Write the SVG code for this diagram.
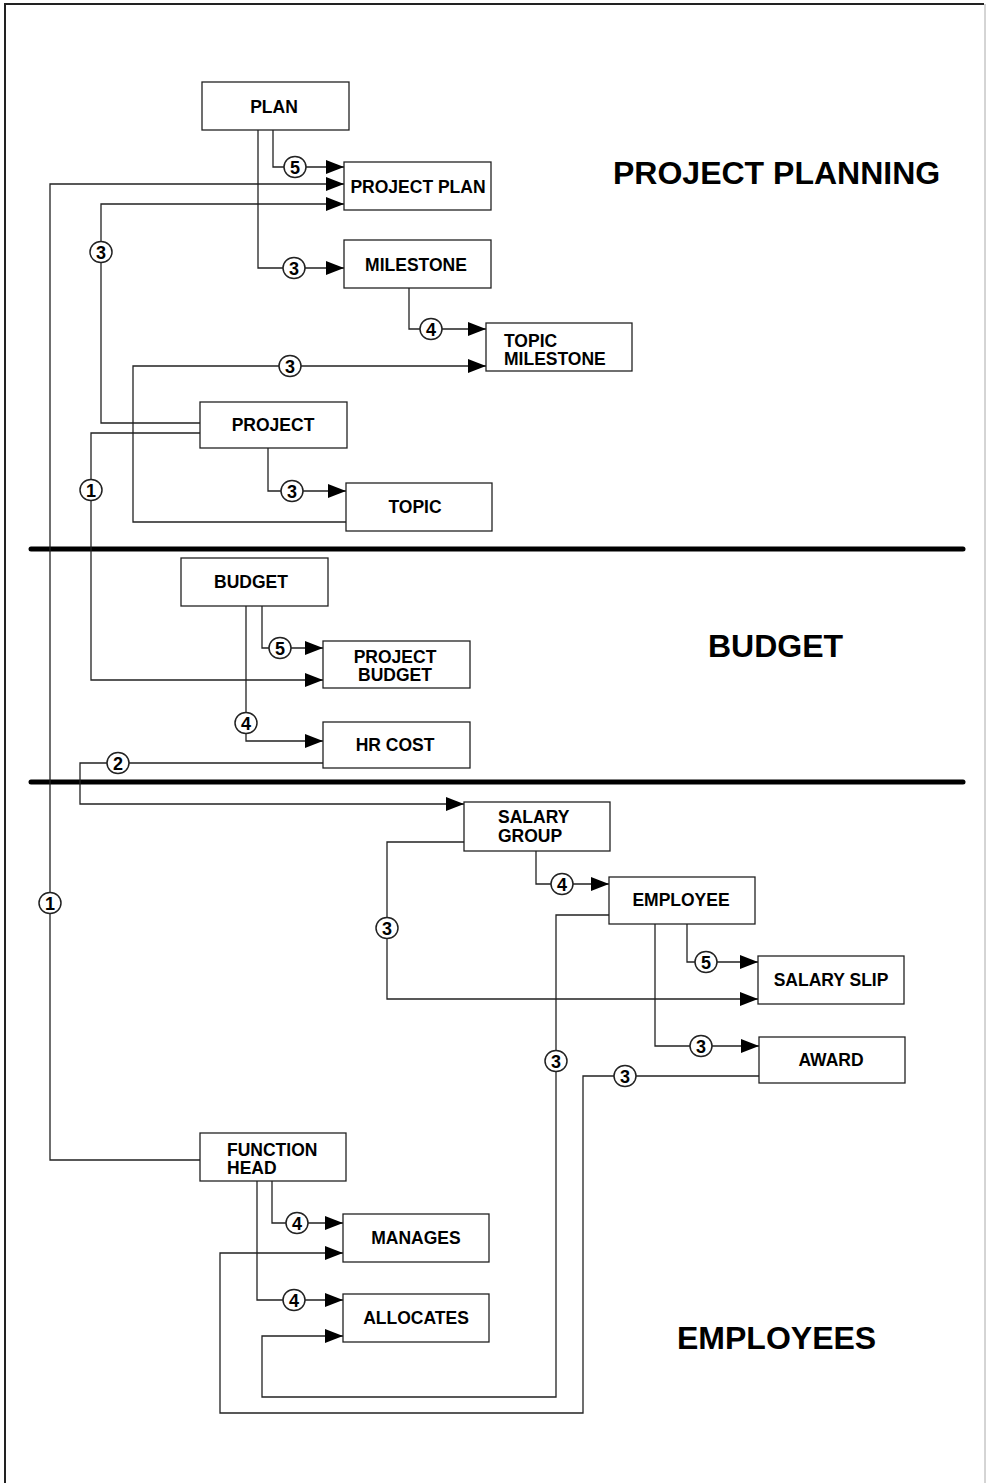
<svg xmlns="http://www.w3.org/2000/svg" width="986" height="1483" viewBox="0 0 986 1483">
  <style>
    .box { fill: #fff; stroke: #222; stroke-width: 1.3; }
    .lbl { font-family: "Liberation Sans", Arial, sans-serif; font-weight: bold; font-size: 17.5px; fill: #000; }
    .mid { text-anchor: middle; }
    .sect { font-family: "Liberation Sans", Arial, sans-serif; font-weight: bold; font-size: 32px; fill: #000; }
    .wire { fill: none; stroke: #222; stroke-width: 1.3; }
    .wire.arrow { marker-end: url(#tip); }
    .card ellipse { fill: #fff; stroke: #222; stroke-width: 1.5; }
    .card text { font-family: "Liberation Sans", Arial, sans-serif; font-weight: bold; font-size: 18px; fill: #000; text-anchor: middle; }
    .sep { stroke: #000; stroke-width: 5; stroke-linecap: round; }
    .frame { stroke: #222; stroke-width: 2; fill: none; }
  </style>
  <defs>
    <marker id="tip" markerWidth="18" markerHeight="14" refX="18" refY="7" orient="auto" markerUnits="userSpaceOnUse">
      <path d="M0,0 L18,7 L0,14 Z" fill="#000"/>
    </marker>
  </defs>

  <rect width="986" height="1483" fill="#fff"/>

  <!-- page frame -->
  <g id="frame">
    <path class="frame" d="M5,1483 V4 H984"/>
    <line x1="985" y1="4" x2="985" y2="1483" stroke="#aaa" stroke-width="1"/>
  </g>

  <!-- section separators and titles -->
  <g id="sections">
    <line class="sep" x1="31" y1="549" x2="963" y2="549"/>
    <line class="sep" x1="31" y1="782" x2="963" y2="782"/>
    <text class="sect" x="613" y="184">PROJECT PLANNING</text>
    <text class="sect" x="708" y="657">BUDGET</text>
    <text class="sect" x="677" y="1349">EMPLOYEES</text>
  </g>

  <!-- connectors -->
  <g id="connectors">
    <path class="wire arrow" d="M273,130 V167 H344"/>
    <path class="wire arrow" d="M258,130 V268 H344"/>
    <path class="wire arrow" d="M200,1160 H50 V184 H344"/>
    <path class="wire arrow" d="M200,423 H101 V204 H344"/>
    <path class="wire arrow" d="M409,288 V329 H486"/>
    <path class="wire arrow" d="M346,522 H133 V366 H486"/>
    <path class="wire arrow" d="M268,448 V491 H346"/>
    <path class="wire arrow" d="M200,433 H91 V680 H323"/>
    <path class="wire arrow" d="M262,606 V648 H323"/>
    <path class="wire arrow" d="M246,606 V741 H323"/>
    <path class="wire arrow" d="M323,763 H80 V804 H464"/>
    <path class="wire arrow" d="M536,851 V884 H609"/>
    <path class="wire arrow" d="M464,842 H387 V999 H758"/>
    <path class="wire arrow" d="M687,924 V962 H758"/>
    <path class="wire arrow" d="M655,924 V1046 H759"/>
    <path class="wire arrow" d="M609,915 H556 V1397 H262 V1336 H343"/>
    <path class="wire arrow" d="M759,1076 H583 V1413 H220 V1253 H343"/>
    <path class="wire arrow" d="M272,1181 V1223 H343"/>
    <path class="wire arrow" d="M257,1181 V1300 H343"/>

    <!-- cardinality markers -->
    <g class="card">
      <ellipse cx="295" cy="167" rx="11" ry="10.5"/><text x="295" y="173.5">5</text>
      <ellipse cx="294" cy="268" rx="11" ry="10.5"/><text x="294" y="274.5">3</text>
      <ellipse cx="50" cy="903" rx="11" ry="10.5"/><text x="50" y="909.5">1</text>
      <ellipse cx="101" cy="252" rx="11" ry="10.5"/><text x="101" y="258.5">3</text>
      <ellipse cx="431" cy="329" rx="11" ry="10.5"/><text x="431" y="335.5">4</text>
      <ellipse cx="290" cy="366" rx="11" ry="10.5"/><text x="290" y="372.5">3</text>
      <ellipse cx="292" cy="491" rx="11" ry="10.5"/><text x="292" y="497.5">3</text>
      <ellipse cx="91" cy="490" rx="11" ry="10.5"/><text x="91" y="496.5">1</text>
      <ellipse cx="280" cy="648" rx="11" ry="10.5"/><text x="280" y="654.5">5</text>
      <ellipse cx="246" cy="723" rx="11" ry="10.5"/><text x="246" y="729.5">4</text>
      <ellipse cx="118" cy="763" rx="11" ry="10.5"/><text x="118" y="769.5">2</text>
      <ellipse cx="562" cy="884" rx="11" ry="10.5"/><text x="562" y="890.5">4</text>
      <ellipse cx="387" cy="928" rx="11" ry="10.5"/><text x="387" y="934.5">3</text>
      <ellipse cx="706" cy="962" rx="11" ry="10.5"/><text x="706" y="968.5">5</text>
      <ellipse cx="701" cy="1046" rx="11" ry="10.5"/><text x="701" y="1052.5">3</text>
      <ellipse cx="556" cy="1061" rx="11" ry="10.5"/><text x="556" y="1067.5">3</text>
      <ellipse cx="625" cy="1076" rx="11" ry="10.5"/><text x="625" y="1082.5">3</text>
      <ellipse cx="297" cy="1223" rx="11" ry="10.5"/><text x="297" y="1229.5">4</text>
      <ellipse cx="294" cy="1300" rx="11" ry="10.5"/><text x="294" y="1306.5">4</text>
    </g>
  </g>

  <!-- entities -->
  <g id="plan">
    <rect class="box" x="202" y="82" width="147" height="48"/>
    <text class="lbl mid" x="274" y="113">PLAN</text>
  </g>
  <g id="project-plan">
    <rect class="box" x="344" y="162" width="147" height="48"/>
    <text class="lbl mid" x="418" y="193">PROJECT PLAN</text>
  </g>
  <g id="milestone">
    <rect class="box" x="344" y="240" width="147" height="48"/>
    <text class="lbl mid" x="416" y="271">MILESTONE</text>
  </g>
  <g id="topic-milestone">
    <rect class="box" x="486" y="323" width="146" height="48"/>
    <text class="lbl" x="504" y="347">TOPIC</text>
    <text class="lbl" x="504" y="365">MILESTONE</text>
  </g>
  <g id="project">
    <rect class="box" x="200" y="402" width="147" height="46"/>
    <text class="lbl mid" x="273" y="431">PROJECT</text>
  </g>
  <g id="topic">
    <rect class="box" x="346" y="483" width="146" height="48"/>
    <text class="lbl mid" x="415" y="513">TOPIC</text>
  </g>
  <g id="budget">
    <rect class="box" x="181" y="558" width="147" height="48"/>
    <text class="lbl mid" x="251" y="588">BUDGET</text>
  </g>
  <g id="project-budget">
    <rect class="box" x="323" y="641" width="147" height="47"/>
    <text class="lbl mid" x="395" y="663">PROJECT</text>
    <text class="lbl mid" x="395" y="681">BUDGET</text>
  </g>
  <g id="hr-cost">
    <rect class="box" x="323" y="722" width="147" height="46"/>
    <text class="lbl mid" x="395" y="751">HR COST</text>
  </g>
  <g id="salary-group">
    <rect class="box" x="464" y="802" width="146" height="49"/>
    <text class="lbl" x="498" y="823">SALARY</text>
    <text class="lbl" x="498" y="842">GROUP</text>
  </g>
  <g id="employee">
    <rect class="box" x="609" y="877" width="146" height="47"/>
    <text class="lbl mid" x="681" y="906">EMPLOYEE</text>
  </g>
  <g id="salary-slip">
    <rect class="box" x="758" y="956" width="146" height="48"/>
    <text class="lbl mid" x="831" y="986">SALARY SLIP</text>
  </g>
  <g id="award">
    <rect class="box" x="759" y="1037" width="146" height="46"/>
    <text class="lbl mid" x="831" y="1066">AWARD</text>
  </g>
  <g id="function-head">
    <rect class="box" x="200" y="1133" width="146" height="48"/>
    <text class="lbl" x="227" y="1156">FUNCTION</text>
    <text class="lbl" x="227" y="1174">HEAD</text>
  </g>
  <g id="manages">
    <rect class="box" x="343" y="1214" width="146" height="48"/>
    <text class="lbl mid" x="416" y="1244">MANAGES</text>
  </g>
  <g id="allocates">
    <rect class="box" x="343" y="1294" width="146" height="48"/>
    <text class="lbl mid" x="416" y="1324">ALLOCATES</text>
  </g>
</svg>
